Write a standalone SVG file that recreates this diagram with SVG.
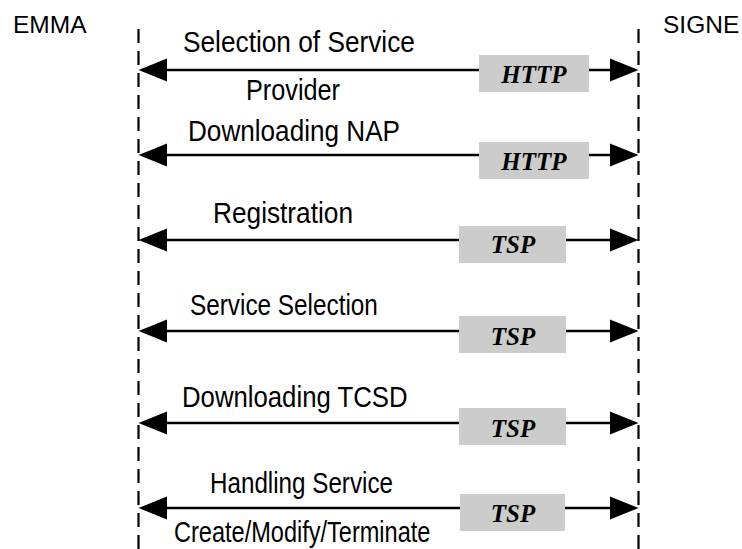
<svg xmlns="http://www.w3.org/2000/svg" width="742" height="549" viewBox="0 0 742 549">
  <style>
    .life { stroke: #000; stroke-width: 2.2; stroke-dasharray: 14 8; fill: none; }
    .msg { stroke: #000; stroke-width: 2.5; fill: none; }
    .head { fill: #000; }
    .proto { fill: #cccccc; }
    .ptext { font-family: "Liberation Serif", "Times New Roman", serif; font-style: italic; font-weight: bold; font-size: 25px; fill: #000; text-anchor: middle; }
    .label { font-family: "Liberation Sans", Arial, sans-serif; font-size: 30px; fill: #000; }
    .actor { font-family: "Liberation Sans", Arial, sans-serif; font-size: 24.5px; fill: #000; }
  </style>
  <rect width="742" height="549" fill="#fff"/>

  <g id="emma">
    <text class="actor" x="13" y="33">EMMA</text>
    <line class="life" x1="138.5" y1="29" x2="138.5" y2="549"/>
  </g>
  <g id="signe">
    <text class="actor" x="663" y="33">SIGNE</text>
    <line class="life" x1="638.5" y1="29" x2="638.5" y2="549"/>
  </g>

  <!-- message labels use a condensed sans: horizontal scale on each text -->
  <g id="connectors">
    <!-- Selection of Service Provider (HTTP) -->
    <g id="msg-selection-provider">
      <line class="msg" x1="160" y1="70" x2="616" y2="70"/>
      <polygon class="head" points="138.5,70 167,58.5 167,81.5"/>
      <polygon class="head" points="638.5,70 610,58.5 610,81.5"/>
      <rect class="proto" x="479" y="55" width="110" height="37"/>
      <text class="ptext" x="534" y="83">HTTP</text>
      <text class="label" transform="translate(183,52) scale(0.875,1)">Selection of Service</text>
      <text class="label" transform="translate(246,100) scale(0.842,1)">Provider</text>
    </g>
    <!-- Downloading NAP (HTTP) -->
    <g id="msg-downloading-nap">
      <line class="msg" x1="160" y1="155" x2="616" y2="155"/>
      <polygon class="head" points="138.5,155 167,143.5 167,166.5"/>
      <polygon class="head" points="638.5,155 610,143.5 610,166.5"/>
      <rect class="proto" x="479" y="142" width="110" height="37"/>
      <text class="ptext" x="534" y="170">HTTP</text>
      <text class="label" transform="translate(188,141) scale(0.871,1)">Downloading NAP</text>
    </g>
    <!-- Registration (TSP) -->
    <g id="msg-registration">
      <line class="msg" x1="160" y1="240" x2="616" y2="240"/>
      <polygon class="head" points="138.5,240 167,228.5 167,251.5"/>
      <polygon class="head" points="638.5,240 610,228.5 610,251.5"/>
      <rect class="proto" x="459" y="226" width="107" height="37"/>
      <text class="ptext" x="513" y="253">TSP</text>
      <text class="label" transform="translate(213,223) scale(0.875,1)">Registration</text>
    </g>
    <!-- Service Selection (TSP) -->
    <g id="msg-service-selection">
      <line class="msg" x1="160" y1="331" x2="616" y2="331"/>
      <polygon class="head" points="138.5,331 167,319.5 167,342.5"/>
      <polygon class="head" points="638.5,331 610,319.5 610,342.5"/>
      <rect class="proto" x="459" y="316" width="107" height="37"/>
      <text class="ptext" x="513" y="345">TSP</text>
      <text class="label" transform="translate(190,315) scale(0.811,1)">Service Selection</text>
    </g>
    <!-- Downloading TCSD (TSP) -->
    <g id="msg-downloading-tcsd">
      <line class="msg" x1="160" y1="423" x2="616" y2="423"/>
      <polygon class="head" points="138.5,423 167,411.5 167,434.5"/>
      <polygon class="head" points="638.5,423 610,411.5 610,434.5"/>
      <rect class="proto" x="459" y="408" width="107" height="37"/>
      <text class="ptext" x="513" y="437">TSP</text>
      <text class="label" transform="translate(182,407) scale(0.858,1)">Downloading TCSD</text>
    </g>
    <!-- Handling Service Create/Modify/Terminate (TSP) -->
    <g id="msg-handling-service">
      <line class="msg" x1="160" y1="508" x2="616" y2="508"/>
      <polygon class="head" points="138.5,508 167,496.5 167,519.5"/>
      <polygon class="head" points="638.5,508 610,496.5 610,519.5"/>
      <rect class="proto" x="460" y="494" width="105" height="37"/>
      <text class="ptext" x="513" y="522">TSP</text>
      <text class="label" transform="translate(210,493) scale(0.807,1)">Handling Service</text>
      <text class="label" transform="translate(174,542) scale(0.785,1)">Create/Modify/Terminate</text>
    </g>
  </g>
</svg>
